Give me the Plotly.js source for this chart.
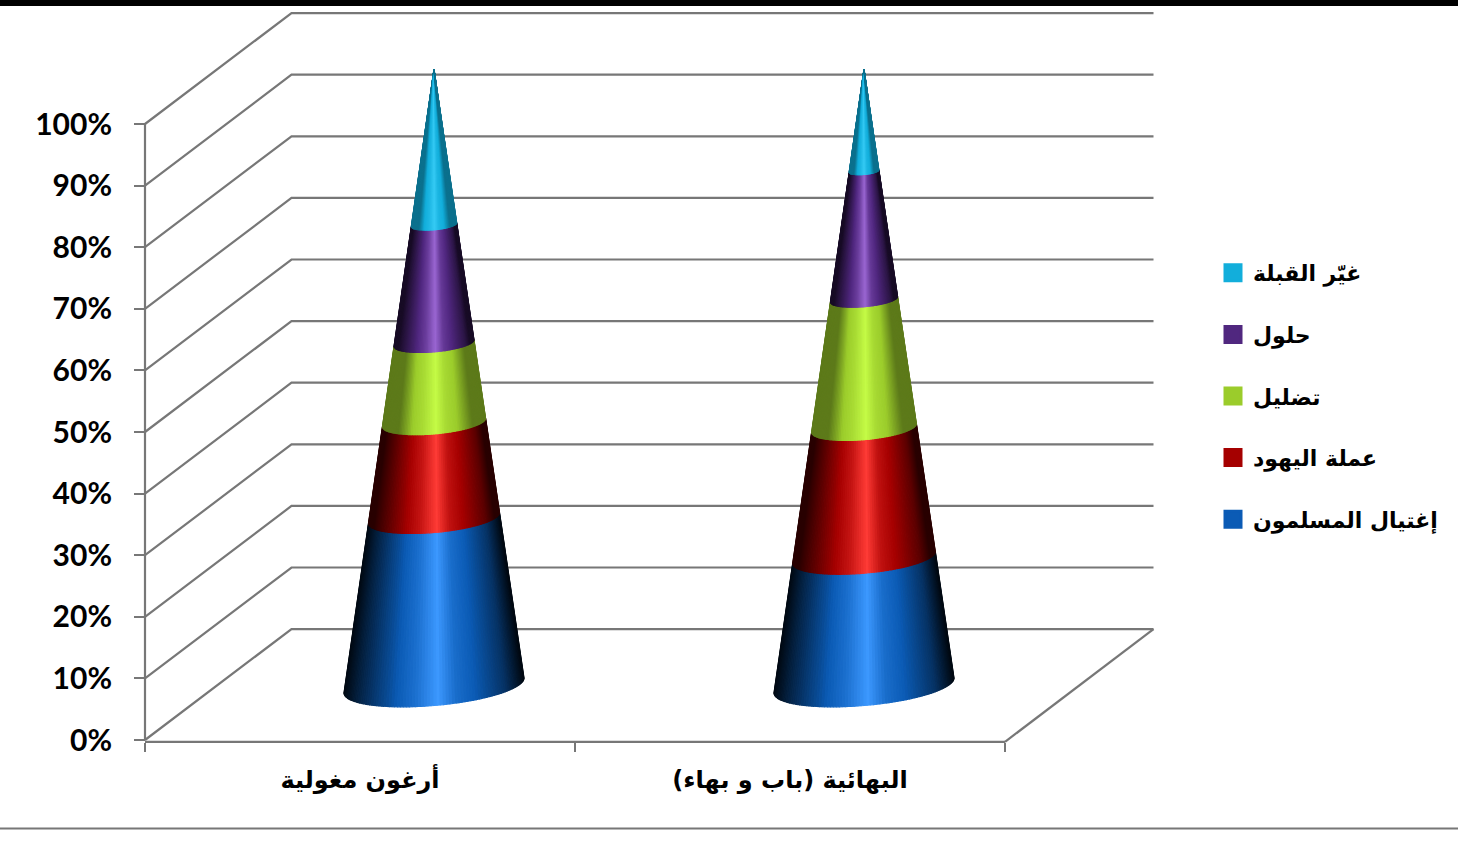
<!DOCTYPE html>
<html>
<head>
<meta charset="utf-8">
<script src="https://cdn.plot.ly/plotly-3.0.1.min.js"></script>
<style>html,body{margin:0;padding:0;background:#fff}</style>
</head>
<body>
<div id="chart" style="width:1458px;height:846px"></div>
<script>
const categories = ['أرغون مغولية', 'البهائية (باب و بهاء)'];
const seriesNames = ['إغتيال المسلمون', 'عملة اليهود', 'تضليل', 'حلول', 'غيّر القبلة'];
const series1 = [27.2, 20.8];
const series2 = [15.5, 21.0];
const series3 = [12.9, 20.9];
const series4 = [19.2, 20.8];
const series5 = [25.2, 16.5];
const yTickVals = [0, 10, 20, 30, 40, 50, 60, 70, 80, 90, 100];
const baseColors = ['#0B5BB5', '#A50000', '#9BCC2B', '#50277F', '#12AEDB'];
const lightColors = ['#3C98FF', '#FF3B36', '#C4FB46', '#9A66D2', '#36CAF4'];
const edgeLevels = [0.1, 0.25, 0.6, 0.3, 0.65];
const shadeStops = [[-1,0.1],[-0.85,0.35],[-0.5,0.85],[-0.2,1.35],[0.05,2],[0.25,1.3],[0.5,0.95],[0.8,0.55],[1,0.1]];

const allSeries = [series1, series2, series3, series4, series5];
const W = 1458, H = 846;
/* front-wall geometry (pixels) */
const L = 145, R = 1005, T = 124, B = 740;
/* plot-area box, wider than the front wall so the 3D walls are not clipped */
const boxL = 130, boxR = 1160, boxT = 0, boxB = 752;
const pxX = (R - L) / 2, pxY = (B - T) / 100;
const gridColor = '#777777';
const steps = 90;

function hex(c){ return [1,3,5].map(i => parseInt(c.substr(i,2),16)); }
function shade(idx, u){
  let l = 1;
  for (let i = 0; i < shadeStops.length - 1; i++) {
    const a = shadeStops[i], b = shadeStops[i+1];
    if (u >= a[0] && u <= b[0]) { l = a[1] + (b[1]-a[1])*(u-a[0])/(b[0]-a[0]); break; }
  }
  l = Math.max(l, edgeLevels[idx]);
  const base = hex(baseColors[idx]), li = hex(lightColors[idx]);
  const c = base.map((v,k) => Math.round(l <= 1 ? v*l : v + (li[k]-v)*(l-1)));
  return 'rgb(' + c.join(',') + ')';
}

const traces = [];
/* walls */
const backDX = 146.5 / pxX, backDXR = 148.5 / pxX, backDY = 18;
const gx = [], gy = [];
yTickVals.forEach(v => {
  gx.push(-0.5, -0.5 + backDX, 1.5 + backDXR, null);
  gy.push(v, v + backDY, v + backDY, null);
});
gx.push(1.5, 1.5 + backDXR, null); gy.push(-0.3, backDY, null);
/* front axis lines */
gx.push(-0.5, -0.5, null, -0.5, 1.5); gy.push(100, 0, null, -0.3, -0.3);
traces.push({x:gx, y:gy, mode:'lines', line:{color:gridColor, width:2.2}, showlegend:false, hoverinfo:'skip'});

/* cones */
const coneDX = 74 / pxX, coneDY = 54.5 / pxY, radius = 90 / pxX;
const tilt = 7.5 / pxY, minor = 20 / pxY;
function pt(cat, v, u){
  const r = 1 - v / 100;
  return [cat + coneDX + u * radius * r,
          v + coneDY + r * (tilt * u - minor * Math.sqrt(Math.max(0, 1 - u*u)))];
}
categories.forEach((name, cat) => {
  let base = 0;
  allSeries.forEach((s, si) => {
    const top = base + s[cat];
    for (let k = 0; k < steps; k++) {
      const u0 = -Math.cos(Math.PI * k / steps), u1 = -Math.cos(Math.PI * (k+1) / steps);
      const pts = [pt(cat, base, u0), pt(cat, base, u1), pt(cat, top, u1), pt(cat, top, u0), pt(cat, base, u0)];
      const col = shade(si, (u0+u1)/2);
      traces.push({x:pts.map(p=>p[0]), y:pts.map(p=>p[1]), mode:'lines', fill:'toself',
        fillcolor:col, line:{color:col, width:1.2}, showlegend:false, hoverinfo:'skip'});
    }
    base = top;
  });
});

/* legend entries, top to bottom */
for (let i = seriesNames.length - 1; i >= 0; i--) {
  traces.push({x:[null], y:[null], mode:'markers', name:seriesNames[i], legendgroup:'g'+i, showlegend:true,
    marker:{symbol:'square', size:16, color:baseColors[i], line:{color:baseColors[i], width:3}}});
}

const paperX = px => (px - boxL) / (boxR - boxL);
const paperY = py => (boxB - py) / (boxB - boxT);
const layout = {
  width: W, height: H, autosize: false,
  margin: {l: boxL, r: W - boxR, t: boxT, b: H - boxB, pad: 0},
  paper_bgcolor: '#fff', plot_bgcolor: 'rgba(0,0,0,0)',
  showlegend: true,
  legend: {x: paperX(1213), xanchor:'left', y: paperY(252), yanchor:'top',
    traceorder:'grouped', tracegroupgap: 30, itemclick:false, itemdoubleclick:false,
    font:{family:'"DejaVu Sans", sans-serif', size:22, weight:700, color:'#000'}, bgcolor:'rgba(0,0,0,0)'},
  xaxis: {range:[-0.5 + (boxL - L) / pxX, -0.5 + (boxR - L) / pxX], anchor:'free', position: paperY(741.5),
    tickmode:'array', tickvals:[0,1], ticktext:categories, ticks:'', showgrid:false,
    zeroline:false, showline:false, ticklabelstandoff: 21,
    tickfont:{family:'"DejaVu Sans", sans-serif', size:24, weight:700, color:'#000'},
    minor:{tickmode:'array', tickvals:[-0.5,0.5,1.5], ticks:'outside', ticklen:9, tickwidth:2, tickcolor:gridColor, showgrid:false}},
  yaxis: {range:[(B - boxB) / pxY, (B - boxT) / pxY], anchor:'free', position: paperX(L),
    tickmode:'array', tickvals:yTickVals, ticktext:yTickVals.map(v=>v+'%'), ticks:'outside', ticklen:11, tickwidth:2,
    tickcolor:gridColor, showgrid:false, zeroline:false, showline:false, ticklabelstandoff: 16,
    tickfont:{family:'Lato, sans-serif', size:30, weight:700, color:'#000'}},
  shapes: [
    {type:'rect', xref:'paper', yref:'paper', x0:paperX(0), x1:paperX(W), y0:paperY(0), y1:paperY(6), fillcolor:'#000', line:{width:0}},
    {type:'line', xref:'paper', yref:'paper', x0:paperX(0), x1:paperX(W), y0:paperY(828.5), y1:paperY(828.5), line:{color:gridColor, width:2}}
  ]
};
Plotly.newPlot('chart', traces, layout, {displayModeBar:false});
</script>
</body>
</html>
